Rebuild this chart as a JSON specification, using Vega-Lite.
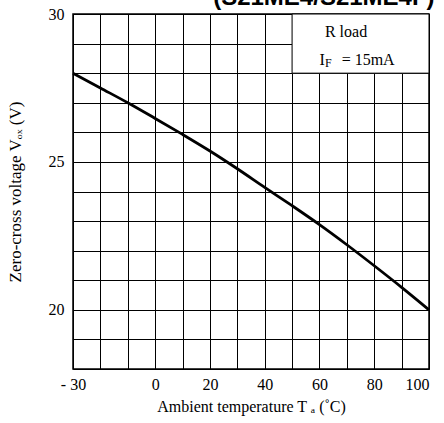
{
  "$schema": "https://vega.github.io/schema/vega-lite/v6.json",
  "width": 356,
  "height": 355,
  "autosize": "none",
  "padding": {"left": 73, "top": 14, "right": 15, "bottom": 54},
  "background": "white",
  "title": {
    "text": "(S21ME4/S21ME4F)",
    "anchor": "end",
    "font": "Liberation Sans",
    "fontSize": 24,
    "fontWeight": "bold",
    "color": "black",
    "offset": -4
  },
  "layer": [
    {
      "data": {"values": [{"t0": 50, "t1": 100, "v0": 28, "v1": 30}]},
      "mark": {"type": "rect", "fill": "white", "stroke": "black", "strokeWidth": 1},
      "encoding": {
        "x": {
          "field": "t0",
          "type": "quantitative",
          "scale": {"domain": [-30, 100], "nice": false, "zero": false},
          "axis": {
            "title": "Ambient temperature T ₐ (˚C)",
            "values": [-30, -20, -10, 0, 10, 20, 30, 40, 50, 60, 70, 80, 90, 100],
            "tickCount": 30,
            "format": "d",
            "labelExpr": "datum.value == -30 ? '- 30' : ((datum.value >= 0 && datum.value % 20 == 0) ? datum.label : '')",
            "labelAlign": {"condition": {"test": "datum.value == 100", "value": "right"}, "value": "center"},
            "labelFlush": false,
            "labelOverlap": false,
            "ticks": false,
            "domain": false,
            "grid": true,
            "gridColor": "black",
            "gridOpacity": 1,
            "gridWidth": 1,
            "labelFont": "Liberation Serif, Times New Roman, serif",
            "labelFontSize": 16,
            "labelColor": "black",
            "labelPadding": 7,
            "titleFont": "Liberation Serif, Times New Roman, serif",
            "titleFontSize": 16,
            "titleFontWeight": "normal",
            "titleColor": "black",
            "titlePadding": 6
          }
        },
        "x2": {"field": "t1"},
        "y": {
          "field": "v0",
          "type": "quantitative",
          "scale": {"domain": [18, 30], "nice": false, "zero": false},
          "axis": {
            "title": "Zero-cross voltage Vₒₓ (V)",
            "values": [18, 19, 20, 21, 22, 23, 24, 25, 26, 27, 28, 29, 30],
            "tickCount": 30,
            "format": "d",
            "labelExpr": "datum.value % 5 == 0 ? datum.label : ''",
            "labelOverlap": false,
            "labelFlush": false,
            "ticks": false,
            "domain": false,
            "grid": true,
            "gridColor": "black",
            "gridOpacity": 1,
            "gridWidth": 1,
            "labelFont": "Liberation Serif, Times New Roman, serif",
            "labelFontSize": 16,
            "labelColor": "black",
            "labelPadding": 9,
            "titleFont": "Liberation Serif, Times New Roman, serif",
            "titleFontSize": 17,
            "titleFontWeight": "normal",
            "titleColor": "black",
            "titlePadding": 24
          }
        },
        "y2": {"field": "v1"}
      }
    },
    {
      "data": {
        "values": [
          {"t": -30, "v": 28.0},
          {"t": -20, "v": 27.5},
          {"t": -10, "v": 27.0},
          {"t": 0, "v": 26.47},
          {"t": 10, "v": 25.93},
          {"t": 20, "v": 25.37},
          {"t": 30, "v": 24.77},
          {"t": 40, "v": 24.14},
          {"t": 50, "v": 23.52},
          {"t": 60, "v": 22.88},
          {"t": 70, "v": 22.2},
          {"t": 80, "v": 21.49},
          {"t": 90, "v": 20.76},
          {"t": 100, "v": 20.0}
        ]
      },
      "mark": {"type": "line", "color": "black", "strokeWidth": 2.8, "interpolate": "monotone"},
      "encoding": {
        "x": {"field": "t", "type": "quantitative"},
        "y": {"field": "v", "type": "quantitative"}
      }
    },
    {
      "data": {
        "values": [
          {"label": "R load", "t": 62, "v": 29.23},
          {"label": "I", "t": 60, "v": 28.28},
          {"label": "= 15mA", "t": 68.1, "v": 28.28}
        ]
      },
      "mark": {"type": "text", "align": "left", "baseline": "alphabetic", "font": "Liberation Serif, Times New Roman, serif", "fontSize": 16, "color": "black"},
      "encoding": {
        "x": {"field": "t", "type": "quantitative"},
        "y": {"field": "v", "type": "quantitative"},
        "text": {"field": "label"}
      }
    },
    {
      "data": {"values": [{"label": "F", "t": 62, "v": 28.21}]},
      "mark": {"type": "text", "align": "left", "baseline": "alphabetic", "font": "Liberation Serif, Times New Roman, serif", "fontSize": 12, "color": "black"},
      "encoding": {
        "x": {"field": "t", "type": "quantitative"},
        "y": {"field": "v", "type": "quantitative"},
        "text": {"field": "label"}
      }
    }
  ],
  "view": {"stroke": "black", "strokeWidth": 1.5}
}
